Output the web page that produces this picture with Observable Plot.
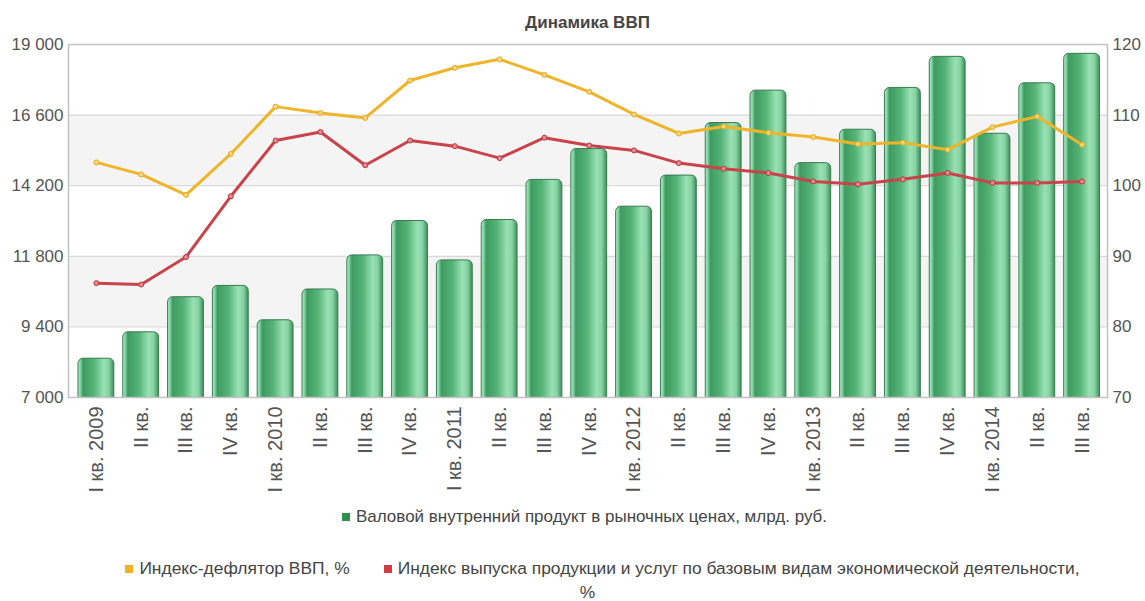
<!DOCTYPE html>
<html>
<head>
<meta charset="utf-8">
<script src="https://cdn.jsdelivr.net/npm/d3@7"></script>
<script src="https://cdn.jsdelivr.net/npm/@observablehq/plot@0.6"></script>
<style>
  body { margin: 0; background: #fff; font-family: "Liberation Sans", Arial, sans-serif; }
  #wrap { position: relative; width: 1145px; height: 601px; overflow: hidden; }
  #title { position: absolute; top: 13px; left: 68px; width: 1039px; text-align: center;
           font-weight: bold; font-size: 17px; color: #454545; }
  #chart { position: absolute; top: 36px; left: 0; }
  .legend { position: absolute; left: 0; width: 1145px; text-align: center; color: #444; font-size: 17px; }
  .mk { display: inline-block; width: 8px; height: 8px; margin-right: 6px; vertical-align: 1px; }
  #leg1 { top: 506px; left: 12px; line-height: 22px; }
  #leg2 { top: 556px; left: 30px; line-height: 24px; font-size: 17.4px; }
</style>
</head>
<body>
<div id="wrap">
  <div id="title">Динамика ВВП</div>
  <div id="chart"></div>
  <div class="legend" id="leg1"><span class="mk" style="background:#2f8f50"></span>Валовой внутренний продукт в рыночных ценах, млрд. руб.</div>
  <div class="legend" id="leg2"><span class="mk" style="background:#f2b21f"></span>Индекс-дефлятор ВВП, %<span style="display:inline-block;width:34px"></span><span class="mk" style="background:#d23b44"></span>Индекс выпуска продукции и услуг по базовым видам экономической деятельности,<br><span style="position:relative;left:-15px">%</span></div>
</div>
<script>
const quarterLabels = ["I кв. 2009","II кв.","III кв.","IV кв.","I кв. 2010","II кв.","III кв.","IV кв.",
  "I кв. 2011","II кв.","III кв.","IV кв.","I кв. 2012","II кв.","III кв.","IV кв.",
  "I кв. 2013","II кв.","III кв.","IV кв.","I кв. 2014","II кв.","III кв."];
const gdp = [8319, 9216, 10409, 10794, 9625, 10672, 11831, 13000, 11660, 13034, 14398, 15444,
  13487, 14544, 16330, 17432, 14967, 16102, 17524, 18580, 15966, 17681, 18683];
const deflator = [103.3, 101.6, 98.7, 104.5, 111.2, 110.3, 109.6, 114.9, 116.7, 117.9, 115.7, 113.3,
  110.1, 107.4, 108.4, 107.5, 106.9, 105.9, 106.1, 105.1, 108.3, 109.8, 105.8];
const outputIndex = [86.2, 86.0, 89.9, 98.5, 106.4, 107.6, 102.9, 106.4, 105.6, 103.9, 106.8, 105.7,
  105.0, 103.2, 102.4, 101.8, 100.6, 100.2, 100.9, 101.8, 100.4, 100.4, 100.6];
const leftTicks = [7000, 9400, 11800, 14200, 16600, 19000];
const rightTicks = [70, 80, 90, 100, 110, 120];

// map right-axis values onto the left scale
const toLeft = v => leftTicks[0] + (v - rightTicks[0]) * (leftTicks[5] - leftTicks[0]) / (rightTicks[5] - rightTicks[0]);
const fromLeft = v => rightTicks[0] + (v - leftTicks[0]) * (rightTicks[5] - rightTicks[0]) / (leftTicks[5] - leftTicks[0]);

const data = quarterLabels.map((q, i) => ({i, gdp: gdp[i], defl: deflator[i], outp: outputIndex[i]}));
const bands = [];
for (let k = 1; k + 1 < leftTicks.length; k += 2) bands.push([leftTicks[k], leftTicks[k + 1]]);

const fmt = d3.formatLocale({thousands: " ", grouping: [3], decimal: ",", currency: ["", ""]}).format(",");

const plot = Plot.plot({
  width: 1145, height: 456,
  marginLeft: 68, marginRight: 38, marginTop: 8, marginBottom: 95,
  style: {fontFamily: "'Liberation Sans', Arial, sans-serif", fontSize: "17px", color: "#555", background: "transparent"},
  x: {type: "band", domain: d3.range(quarterLabels.length), paddingInner: 0.2, paddingOuter: 0.1, round: false, insetLeft: 5.5, insetRight: 3, axis: null, label: null},
  y: {domain: [leftTicks[0], leftTicks[5]], axis: null, label: null},
  marks: [
    Plot.rect(bands, {y1: d => d[0], y2: d => d[1], fill: "#f4f4f4"}),
    Plot.ruleY(leftTicks.slice(1, -1), {stroke: "#d2d2d2"}),
    Plot.barY(data, {x: "i", y1: leftTicks[0] - 300, y2: "gdp", fill: "url(#barGrad)", stroke: "#3b7a52", strokeWidth: 1, rx: 5, clip: true}),
    Plot.line(data, {x: "i", y: d => toLeft(d.defl), stroke: "#efb52a", strokeWidth: 3}),
    Plot.dot(data, {x: "i", y: d => toLeft(d.defl), r: 2.5, fill: "#f7d67c", stroke: "#e6a91c", strokeWidth: 1}),
    Plot.line(data, {x: "i", y: d => toLeft(d.outp), stroke: "#c9434b", strokeWidth: 3}),
    Plot.dot(data, {x: "i", y: d => toLeft(d.outp), r: 2.5, fill: "#e58a8f", stroke: "#b8343c", strokeWidth: 1}),
    Plot.frame({stroke: "#c2c2c2", strokeWidth: 1.5}),
    Plot.axisY({ticks: leftTicks, tickFormat: fmt, tickSize: 0, tickPadding: 5, anchor: "left", fill: "#555", label: null}),
    Plot.axisY({ticks: rightTicks.map(toLeft), tickFormat: v => Math.round(fromLeft(v)), tickSize: 0, tickPadding: 5, anchor: "right", fill: "#555", label: null}),
    Plot.axisX({tickFormat: i => quarterLabels[i], tickRotate: -90, tickSize: 0, tickPadding: 9, fill: "#555", fontSize: 20, label: null})
  ]
});

const svg = d3.select(plot);
const defs = svg.insert("defs", ":first-child");
const g = defs.append("linearGradient").attr("id", "barGrad").attr("x1", "0").attr("x2", "1").attr("y1", "0").attr("y2", "0");
[[0, "#b2efcd"], [0.07, "#7fd3a0"], [0.14, "#3f9a60"], [0.45, "#55b477"], [0.72, "#99e1b4"], [0.86, "#86d3a3"], [1, "#3d8f5a"]]
  .forEach(([o, c]) => g.append("stop").attr("offset", o).attr("stop-color", c));
document.getElementById("chart").appendChild(plot);
</script>
</body>
</html>
